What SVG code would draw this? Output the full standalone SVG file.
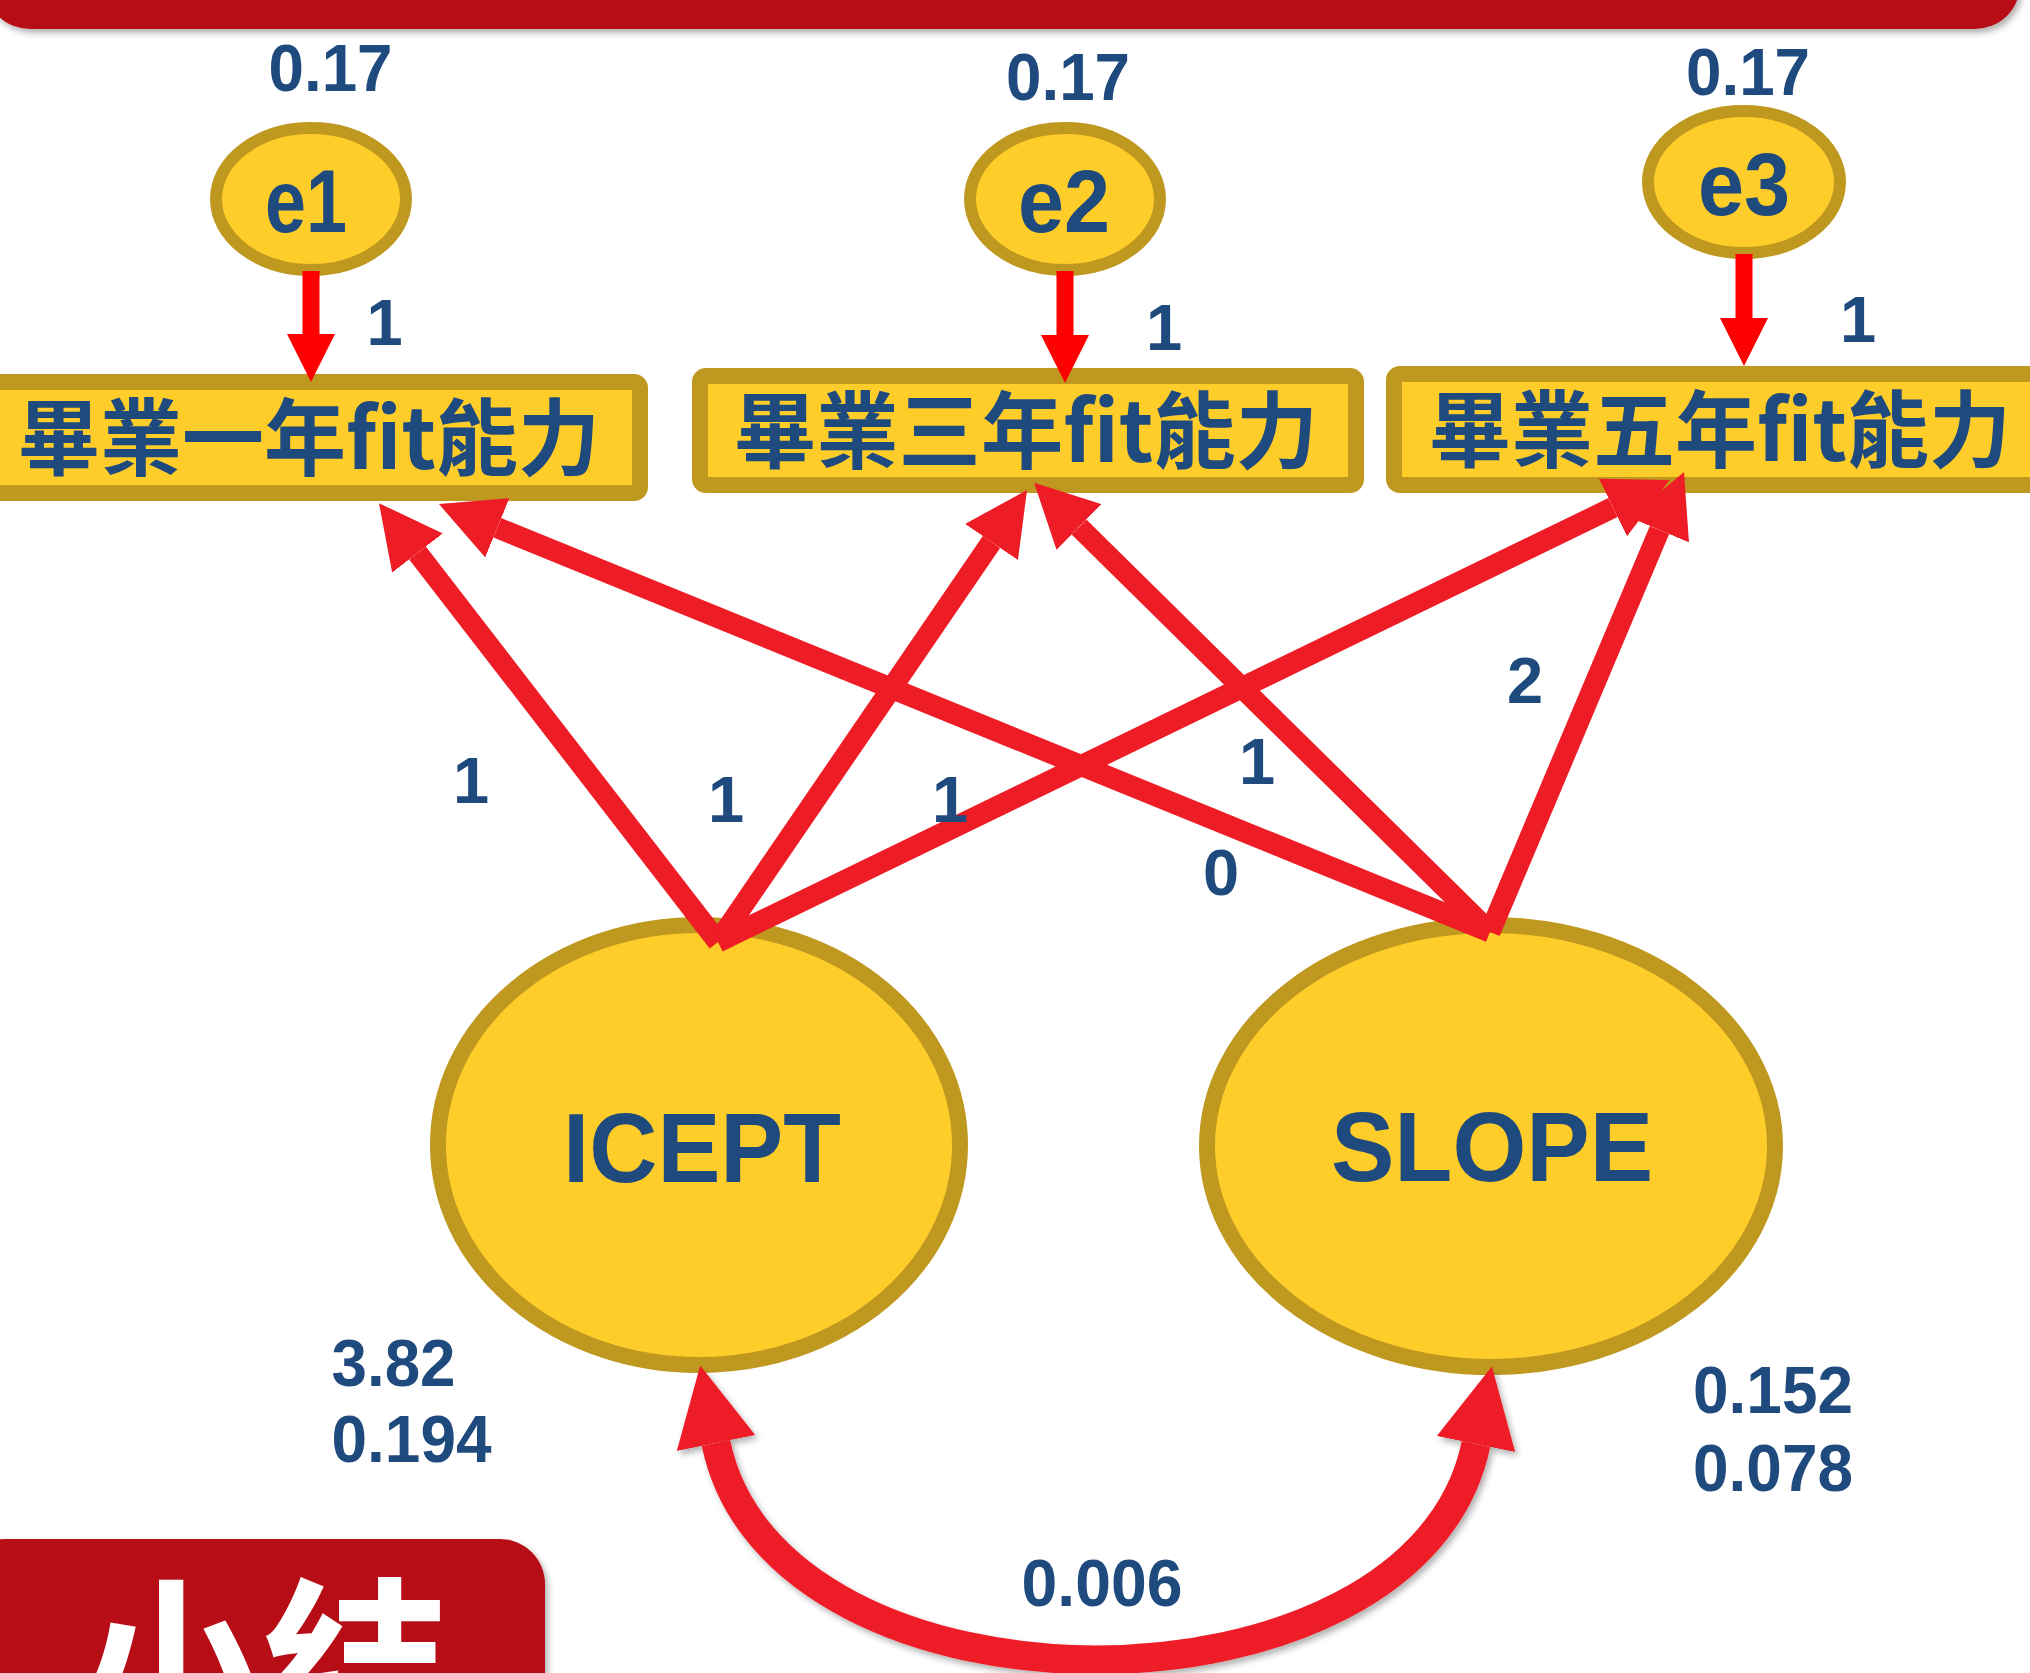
<svg xmlns="http://www.w3.org/2000/svg" width="2030" height="1673" viewBox="0 0 2030 1673">
<style>
.bar{fill:#B70F15}
.ell{fill:#FFCD29;stroke:#BF9820;stroke-width:12}
.big{fill:#FFCD29;stroke:#BF9820;stroke-width:16}
.box{fill:#FFCD29;stroke:#BF9820;stroke-width:16}
.lbl{font-family:"Liberation Sans",Arial,sans-serif;font-weight:bold;fill:#1F4A7E;text-anchor:middle}
.num{font-size:65px}
.cjk{font-family:"Noto Sans CJK TC","Noto Sans CJK SC",sans-serif;font-weight:bold;fill:#1F4A7E;font-size:84px;text-anchor:middle}
.path{stroke:#EE1C25;stroke-width:21;fill:none}
.err{stroke:#FF0000;stroke-width:17;fill:none}
.cov{stroke:#EE1C25;stroke-width:29;fill:none}
</style>
<defs>
<marker id="ah" viewBox="0 -32 63 64" markerWidth="63" markerHeight="64" refX="0" refY="0" markerUnits="userSpaceOnUse" orient="auto">
<path d="M0,-32 L63,0 L0,32 Z" fill="#EE1C25"/>
</marker>
<marker id="ahe" viewBox="0 -24 48 48" markerWidth="48" markerHeight="48" refX="0" refY="0" markerUnits="userSpaceOnUse" orient="auto">
<path d="M0,-24 L48,0 L0,24 Z" fill="#FF0000"/>
</marker>
<marker id="ahc" viewBox="0 -40 79 80" markerWidth="79" markerHeight="80" refX="0" refY="0" markerUnits="userSpaceOnUse" orient="auto-start-reverse">
<path d="M0,-40 L79,0 L0,40 Z" fill="#EE1C25"/>
</marker>
<filter id="sh" filterUnits="userSpaceOnUse" x="-50" y="-100" width="2130" height="1873">
<feDropShadow dx="3" dy="4" stdDeviation="3" flood-color="#000" flood-opacity="0.3"/>
</filter>
</defs>

<g id="topbar">
<rect class="bar" x="-15" y="-60" width="2035" height="89" rx="45" filter="url(#sh)"/>
</g>
<g id="summary">
<rect class="bar" x="-40" y="1539" width="585" height="200" rx="45" filter="url(#sh)"/>
<text x="78" y="1735" font-family="'Noto Sans CJK SC',sans-serif" font-weight="bold" font-size="185" fill="#FFFFFF">小结</text>
</g>

<g id="box1"><rect class="box" x="-10" y="382" width="650" height="111" rx="6"/><text class="cjk" x="309" y="469" textLength="582" lengthAdjust="spacingAndGlyphs">畢業一年fit能力</text></g>
<g id="box2"><rect class="box" x="700" y="376" width="656" height="109" rx="6"/><text class="cjk" x="1026" y="462" textLength="584" lengthAdjust="spacingAndGlyphs">畢業三年fit能力</text></g>
<g id="box3"><rect class="box" x="1394" y="374" width="700" height="111" rx="6"/><text class="cjk" x="1720" y="461" textLength="582" lengthAdjust="spacingAndGlyphs">畢業五年fit能力</text></g>

<g id="e1"><ellipse class="ell" cx="311" cy="199" rx="95" ry="71"/><text class="lbl" x="306" y="232" font-size="89" textLength="82" lengthAdjust="spacingAndGlyphs">e1</text></g>
<g id="e2"><ellipse class="ell" cx="1065" cy="199" rx="95" ry="71"/><text class="lbl" x="1064" y="232" font-size="89" textLength="92" lengthAdjust="spacingAndGlyphs">e2</text></g>
<g id="e3"><ellipse class="ell" cx="1744" cy="182" rx="96" ry="71"/><text class="lbl" x="1744" y="215" font-size="89" textLength="92" lengthAdjust="spacingAndGlyphs">e3</text></g>

<g id="icept"><ellipse class="big" cx="699" cy="1145" rx="261" ry="220"/><text class="lbl" x="702" y="1182" font-size="98" textLength="278" lengthAdjust="spacingAndGlyphs">ICEPT</text></g>
<g id="slope"><ellipse class="big" cx="1491" cy="1146" rx="284" ry="221"/><text class="lbl" x="1492" y="1181" font-size="98" textLength="322" lengthAdjust="spacingAndGlyphs">SLOPE</text></g>

<g id="connectors">
<line class="err" x1="311" y1="271" x2="311" y2="334" marker-end="url(#ahe)"/>
<line class="err" x1="1065" y1="271" x2="1065" y2="335" marker-end="url(#ahe)"/>
<line class="err" x1="1744" y1="254" x2="1744" y2="318" marker-end="url(#ahe)"/>
<line class="path" x1="718" y1="942" x2="417.5" y2="553" marker-end="url(#ah)"/>
<line class="path" x1="718" y1="942" x2="991.5" y2="542" marker-end="url(#ah)"/>
<line class="path" x1="718" y1="942" x2="1613" y2="507.5" marker-end="url(#ah)"/>
<line class="path" x1="1490" y1="932" x2="497.3" y2="527.8" marker-end="url(#ah)"/>
<line class="path" x1="1490" y1="932" x2="1079" y2="527" marker-end="url(#ah)"/>
<line class="path" x1="1490" y1="932" x2="1659.5" y2="530" marker-end="url(#ah)"/>
<path class="cov" d="M716,1443 C775,1732 1417,1732 1476,1444" marker-start="url(#ahc)" marker-end="url(#ahc)" filter="url(#sh)"/>
</g>

<g id="labels">
<text class="lbl" x="330.5" y="91" font-size="67" textLength="124" lengthAdjust="spacingAndGlyphs">0.17</text>
<text class="lbl" x="1068" y="100" font-size="67" textLength="124" lengthAdjust="spacingAndGlyphs">0.17</text>
<text class="lbl" x="1748" y="95" font-size="67" textLength="124" lengthAdjust="spacingAndGlyphs">0.17</text>
<text class="lbl num" x="384.5" y="345">1</text>
<text class="lbl num" x="1164" y="350">1</text>
<text class="lbl num" x="1858" y="342">1</text>
<text class="lbl num" x="471" y="803">1</text>
<text class="lbl num" x="726" y="822">1</text>
<text class="lbl num" x="950" y="822">1</text>
<text class="lbl num" x="1257" y="784">1</text>
<text class="lbl num" x="1221" y="895">0</text>
<text class="lbl num" x="1525" y="703">2</text>
<text class="lbl" x="393.5" y="1386" font-size="67" textLength="124" lengthAdjust="spacingAndGlyphs">3.82</text>
<text class="lbl" x="411.5" y="1462" font-size="67" textLength="160" lengthAdjust="spacingAndGlyphs">0.194</text>
<text class="lbl" x="1773" y="1413" font-size="67" textLength="160" lengthAdjust="spacingAndGlyphs">0.152</text>
<text class="lbl" x="1773" y="1491" font-size="67" textLength="160" lengthAdjust="spacingAndGlyphs">0.078</text>
<text class="lbl" x="1102" y="1606" font-size="67" textLength="161" lengthAdjust="spacingAndGlyphs">0.006</text>
</g>
</svg>
